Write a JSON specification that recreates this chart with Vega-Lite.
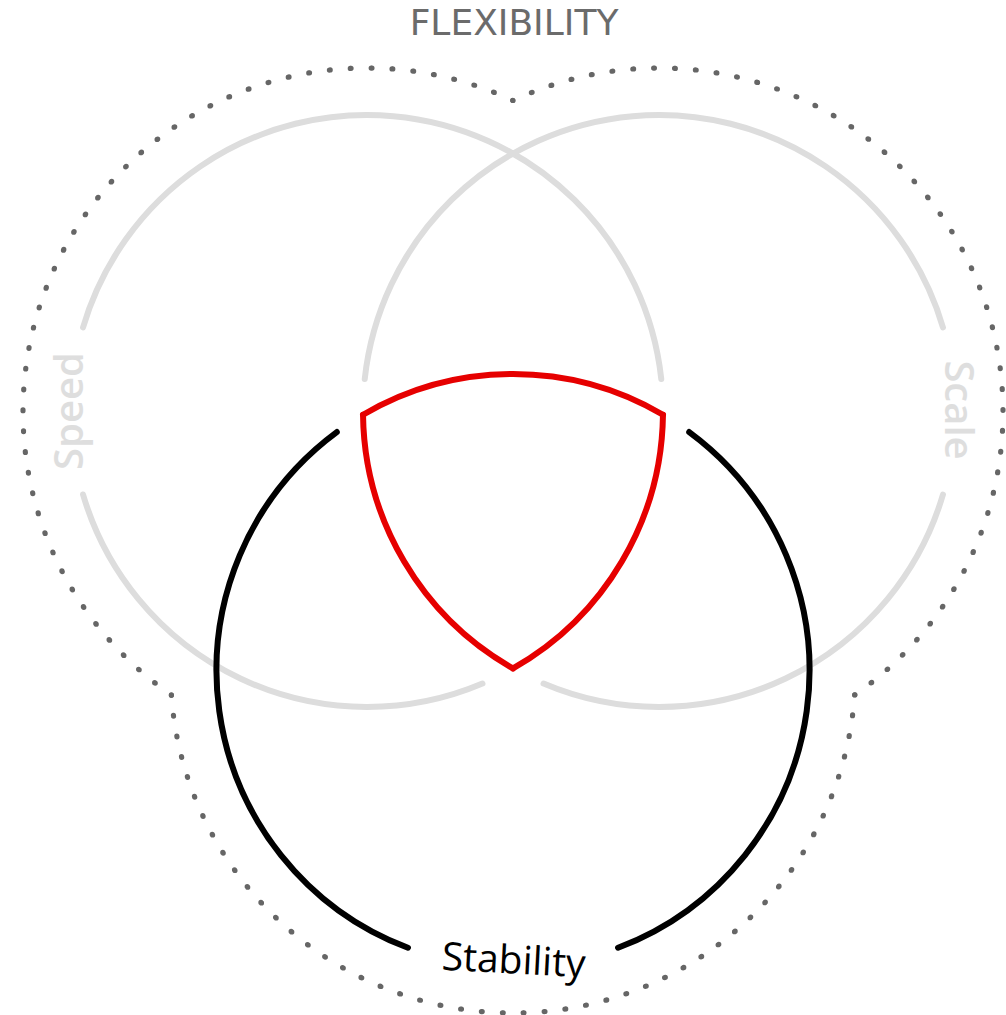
{
  "$schema": "https://vega.github.io/schema/vega-lite/v6.json",
  "width": 1006,
  "height": 1015,
  "padding": 0,
  "autosize": {"type": "none"},
  "background": "white",
  "config": {"view": {"stroke": null}},
  "datasets": {
    "gray": [
      {"circle": "Speed", "cx": 367, "cy": 411, "r": 296, "t0": -1.2848, "t1": 1.4625},
      {"circle": "Speed", "cx": 367, "cy": 411, "r": 296, "t0": 2.7409, "t1": 4.4264},
      {"circle": "Scale", "cx": 659, "cy": 411, "r": 296, "t0": -1.4625, "t1": 1.2848},
      {"circle": "Scale", "cx": 659, "cy": 411, "r": 296, "t0": 1.8568, "t1": 3.5423}
    ],
    "black": [
      {"circle": "Stability", "cx": 513, "cy": 670.5, "r": 296.5, "t0": 0.6364, "t1": 2.7794},
      {"circle": "Stability", "cx": 513, "cy": 670.5, "r": 296.5, "t0": 3.5038, "t1": 5.6468}
    ],
    "red": [
      {"side": "top", "cx": 513, "cy": 670.5, "r": 296.5, "t0": -0.5303, "t1": 0.5303},
      {"side": "right", "cx": 367, "cy": 411, "r": 296, "t0": 1.5833, "t1": 2.6257},
      {"side": "left", "cx": 659, "cy": 411, "r": 296, "t0": -2.6257, "t1": -1.5833}
    ],
    "dotsSide": [
      {"part": "left", "cx": 367, "cy": 412, "r": 344, "t0": -2.5367, "t1": 0.4383},
      {"part": "right", "cx": 659, "cy": 412, "r": 344, "t0": -0.4383, "t1": 2.5367}
    ],
    "dotsBottom": [
      {"part": "bottom", "cx": 513, "cy": 670.5, "r": 342.5, "t0": 1.6423, "t1": 4.6409}
    ],
    "title": [{"label": "FLEXIBILITY", "cx": 514, "cy": 35}],
    "speed": [{"label": "Speed", "cx": 83, "cy": 411}],
    "scale": [{"label": "Scale", "cx": 945, "cy": 410}],
    "stability": [{"label": "Stability", "cx": 513, "cy": 973.5}]
  },
  "encoding": {
    "x": {"field": "cx", "type": "quantitative", "scale": {"domain": [0, 1006], "nice": false, "zero": false}, "axis": null},
    "y": {"field": "cy", "type": "quantitative", "scale": {"domain": [0, 1015], "nice": false, "zero": false, "reverse": true}, "axis": null}
  },
  "layer": [
    {
      "data": {"name": "gray"},
      "mark": {"type": "arc", "filled": false, "stroke": "#dddddd", "strokeWidth": 6, "strokeJoin": "round", "strokeCap": "round"},
      "encoding": {
        "theta": {"field": "t0", "type": "quantitative", "scale": null, "stack": null},
        "theta2": {"field": "t1"},
        "radius": {"field": "r", "type": "quantitative", "scale": null},
        "radius2": {"field": "r"}
      }
    },
    {
      "data": {"name": "dotsSide"},
      "mark": {"type": "arc", "filled": false, "stroke": "#666666", "strokeWidth": 5.2, "strokeCap": "round", "strokeJoin": "round", "strokeDash": [0, 20.886]},
      "encoding": {
        "theta": {"field": "t0", "type": "quantitative", "scale": null, "stack": null},
        "theta2": {"field": "t1"},
        "radius": {"field": "r", "type": "quantitative", "scale": null},
        "radius2": {"field": "r"}
      }
    },
    {
      "data": {"name": "dotsBottom"},
      "mark": {"type": "arc", "filled": false, "stroke": "#666666", "strokeWidth": 5.2, "strokeCap": "round", "strokeJoin": "round", "strokeDash": [0, 20.96]},
      "encoding": {
        "theta": {"field": "t0", "type": "quantitative", "scale": null, "stack": null},
        "theta2": {"field": "t1"},
        "radius": {"field": "r", "type": "quantitative", "scale": null},
        "radius2": {"field": "r"}
      }
    },
    {
      "data": {"name": "black"},
      "mark": {"type": "arc", "filled": false, "stroke": "#000000", "strokeWidth": 6, "strokeJoin": "round", "strokeCap": "round"},
      "encoding": {
        "theta": {"field": "t0", "type": "quantitative", "scale": null, "stack": null},
        "theta2": {"field": "t1"},
        "radius": {"field": "r", "type": "quantitative", "scale": null},
        "radius2": {"field": "r"}
      }
    },
    {
      "data": {"name": "red"},
      "mark": {"type": "arc", "filled": false, "stroke": "#e60000", "strokeWidth": 6, "strokeJoin": "round", "strokeCap": "round"},
      "encoding": {
        "theta": {"field": "t0", "type": "quantitative", "scale": null, "stack": null},
        "theta2": {"field": "t1"},
        "radius": {"field": "r", "type": "quantitative", "scale": null},
        "radius2": {"field": "r"}
      }
    },
    {
      "data": {"name": "title"},
      "mark": {"type": "text", "font": "DejaVu Sans", "fontSize": 36, "color": "#6b6b6b", "align": "center", "baseline": "alphabetic"},
      "encoding": {"text": {"field": "label"}}
    },
    {
      "data": {"name": "speed"},
      "mark": {"type": "text", "font": "Open Sans", "fontSize": 40, "fontWeight": 600, "color": "#dedede", "align": "center", "baseline": "alphabetic", "angle": 270},
      "encoding": {"text": {"field": "label"}}
    },
    {
      "data": {"name": "scale"},
      "mark": {"type": "text", "font": "Open Sans", "fontSize": 40, "fontWeight": 600, "color": "#dedede", "align": "center", "baseline": "alphabetic", "angle": 90},
      "encoding": {"text": {"field": "label"}}
    },
    {
      "data": {"name": "stability"},
      "mark": {"type": "text", "font": "Open Sans", "fontSize": 39, "fontWeight": 400, "color": "#000000", "align": "center", "baseline": "alphabetic", "angle": 3},
      "encoding": {"text": {"field": "label"}}
    }
  ]
}
